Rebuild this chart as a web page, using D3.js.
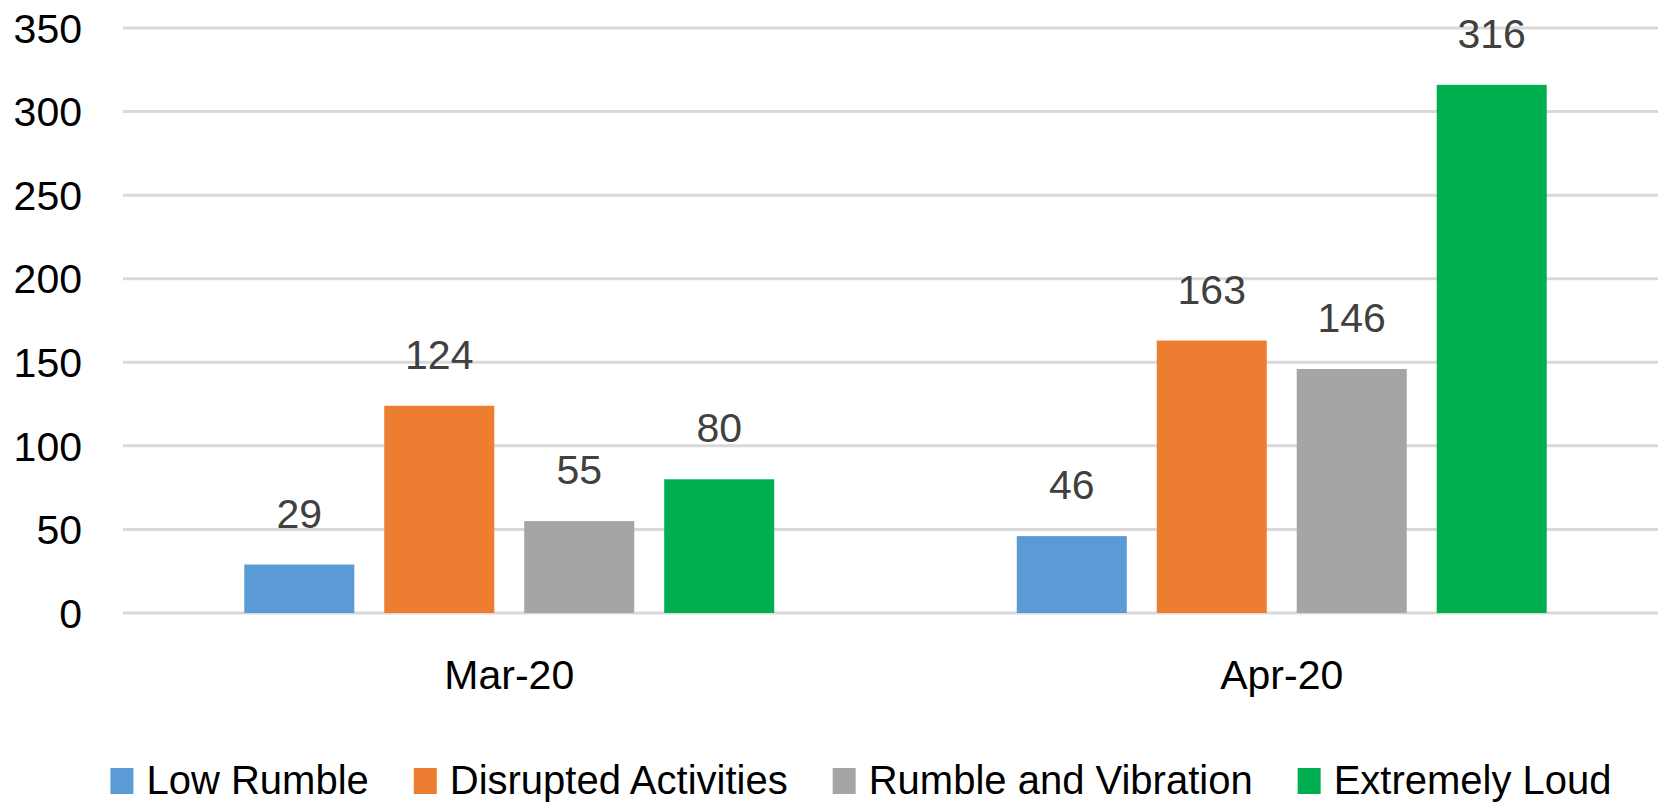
<html>
<head>
<script src="https://d3js.org/d3.v7.min.js"></script>
<style>
body { margin: 0; background: #fff; font-family: "Liberation Sans", Arial, sans-serif; }
.grid line { stroke: #d9d9d9; stroke-width: 3; }
</style>
</head>
<body>
<svg id="chart"></svg>
<script>
// data
var months = ["Mar-20", "Apr-20"];
var seriesNames = ["Low Rumble", "Disrupted Activities", "Rumble and Vibration", "Extremely Loud"];
var lowRumble = [29, 46];
var disrupted = [124, 163];
var rumbleVibration = [55, 146];
var extremelyLoud = [80, 316];
var yTicks = [0, 50, 100, 150, 200, 250, 300, 350];
var colors = ["#5b9bd5", "#ed7d31", "#a5a5a5", "#00b050"];

var seriesValues = [lowRumble, disrupted, rumbleVibration, extremelyLoud];

const width = 1658;
const height = 804;

const svg = d3.select("#chart").attr("width", width).attr("height", height);

const y = d3.scaleLinear().domain([0, 350]).range([613, 28]);

const x0 = d3.scaleBand()
    .domain(months)
    .range([123, 1668])
    .paddingInner(0.314)
    .paddingOuter(0.157);

const x1 = d3.scaleBand()
    .domain(seriesNames)
    .range([0, x0.bandwidth()])
    .paddingInner(0.214);

// gridlines
svg.append("g").attr("class", "grid")
    .selectAll("line")
    .data(yTicks)
    .enter().append("line")
    .attr("x1", 123).attr("x2", width)
    .attr("y1", d => y(d)).attr("y2", d => y(d));

// y axis labels
svg.append("g")
    .selectAll("text")
    .data(yTicks)
    .enter().append("text")
    .attr("x", 82)
    .attr("y", d => y(d))
    .attr("dy", "0.36em")
    .attr("text-anchor", "end")
    .style("font-size", "41px")
    .attr("fill", "#000")
    .text(d => d);

// bars
var groups = svg.append("g")
    .selectAll("g")
    .data(months)
    .enter().append("g")
    .attr("transform", d => `translate(${x0(d)},0)`);

groups.each(function(m, mi) {
    var g = d3.select(this);
    var rows = seriesNames.map((s, si) => ({ name: s, value: seriesValues[si][mi], color: colors[si] }));

    g.selectAll("rect")
        .data(rows)
        .enter().append("rect")
        .attr("x", d => x1(d.name))
        .attr("y", d => y(d.value))
        .attr("width", x1.bandwidth())
        .attr("height", d => y(0) - y(d.value))
        .attr("fill", d => d.color);

    g.selectAll("text.val")
        .data(rows)
        .enter().append("text")
        .attr("class", "val")
        .attr("x", d => x1(d.name) + x1.bandwidth() / 2)
        .attr("y", d => y(d.value) - 37)
        .attr("text-anchor", "middle")
        .style("font-size", "41px")
        .attr("fill", "#404040")
        .text(d => d.value);
});

// category labels
svg.append("g")
    .selectAll("text")
    .data(months)
    .enter().append("text")
    .attr("x", d => x0(d) + x0.bandwidth() / 2)
    .attr("y", 689)
    .attr("text-anchor", "middle")
    .style("font-size", "41px")
    .attr("fill", "#000")
    .text(d => d);

// legend
var legend = svg.append("g");
var cursor = 0;
seriesNames.forEach(function(name, i) {
    var item = legend.append("g").attr("transform", `translate(${cursor},0)`);
    item.append("rect")
        .attr("x", 0).attr("y", 768)
        .attr("width", 23).attr("height", 26)
        .attr("fill", colors[i]);
    var t = item.append("text")
        .attr("x", 36).attr("y", 794)
        .style("font-size", "40px")
        .attr("fill", "#000")
        .text(name);
    cursor += 36 + t.node().getComputedTextLength() + 45;
});
var legendWidth = cursor - 45;
legend.attr("transform", `translate(${861 - legendWidth / 2},0)`);
</script>
</body>
</html>
